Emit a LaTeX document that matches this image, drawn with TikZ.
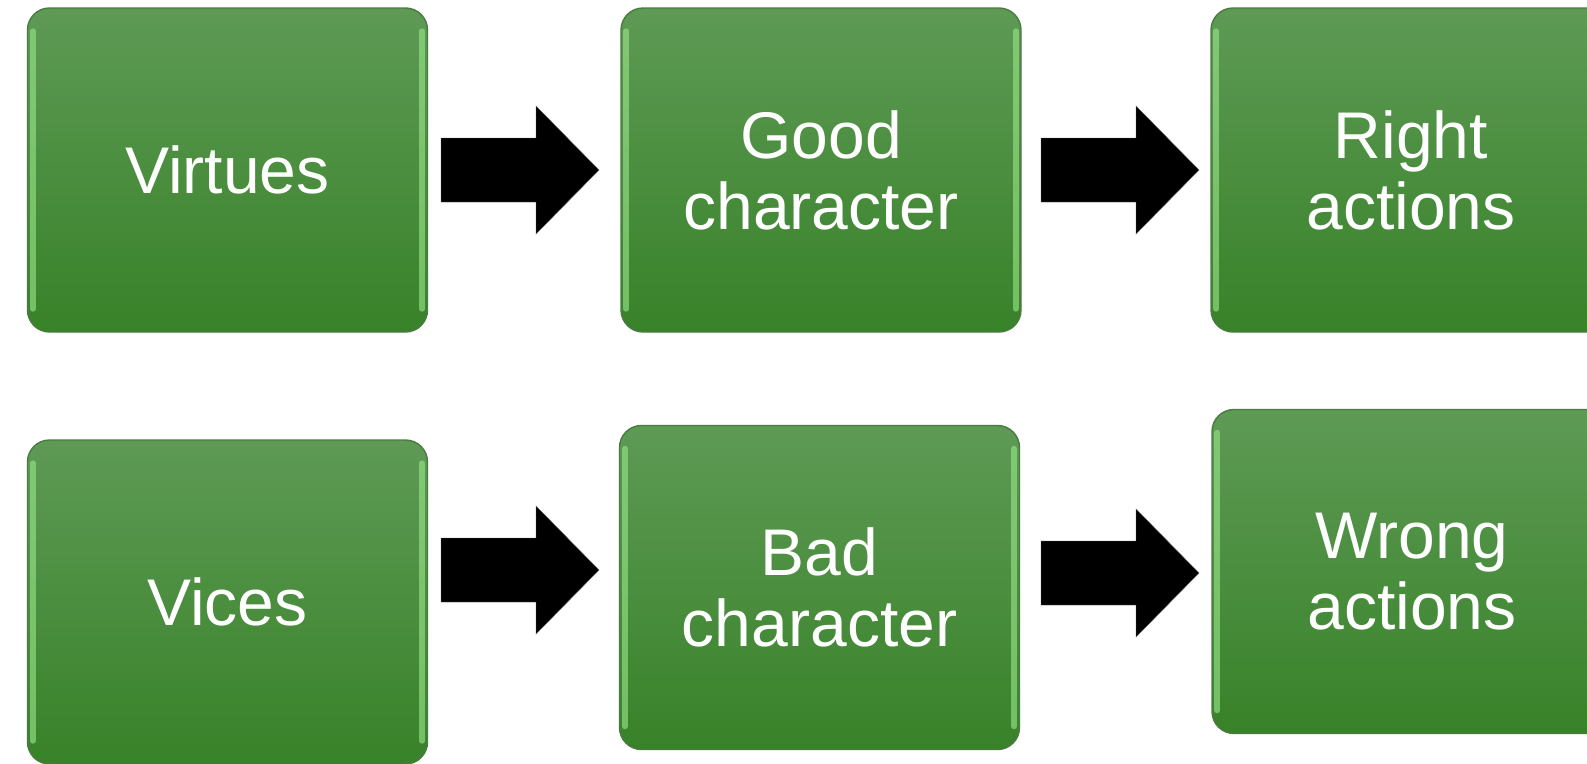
\documentclass[tikz,border=0pt]{standalone}
\usepackage{fontspec}
\setmainfont{Liberation Sans}
\usetikzlibrary{calc}
\definecolor{gtop}{HTML}{5E9A55}
\definecolor{gbot}{HTML}{388229}
\definecolor{gedge}{HTML}{4B7A42}
\definecolor{ghl}{HTML}{9BE88B}
\tikzset{
  greenbox/.style={rectangle, rounded corners=22pt, minimum width=400pt, minimum height=324pt,
    top color=gtop, bottom color=gbot, draw=gedge, line width=1.4pt,
    text=white, align=center, inner sep=0pt,
    font=\fontsize{66}{71}\selectfont},
  hilite/.style={draw=ghl, line width=6pt, line cap=round, opacity=0.6},
  blockarrow/.style={fill=black, draw=black!60, line width=0.4pt}
}
\newcommand{\myblockarrow}[2]{%
  \path[blockarrow] (#1,#2) ++(0,-32) -- ++(95,0) -- ++(0,-32) -- ++(63,64) -- ++(-63,64) -- ++(0,-32) -- ++(-95,0) -- cycle;}
\begin{document}
\begin{tikzpicture}[x=1pt,y=-1pt]
\useasboundingbox (0,0) rectangle (1587,763);
\clip (0,0) rectangle (1587,763);
\fill[white] (0,0) rectangle (1587,763);
\node[greenbox] (a) at (227.5,170) {Virtues};
\node[greenbox] (b) at (821,170) {Good\\character};
\node[greenbox] (c) at (1411,170) {Right\\actions};
\node[greenbox] (d) at (227.5,602) {Vices};
\node[greenbox] (e) at (819.5,587.5) {Bad\\character};
\node[greenbox] (f) at (1412,571.5) {Wrong\\actions};
\foreach \n in {a,b,c,d,e,f}{
  \draw[hilite] ($(\n.north west)+(6,24)$) -- ($(\n.south west)+(6,-24)$);
  \draw[hilite] ($(\n.north east)+(-6,24)$) -- ($(\n.south east)+(-6,-24)$);
}
\myblockarrow{441}{170}
\myblockarrow{1041}{170}
\myblockarrow{441}{570}
\myblockarrow{1041}{573}
\end{tikzpicture}
\end{document}
